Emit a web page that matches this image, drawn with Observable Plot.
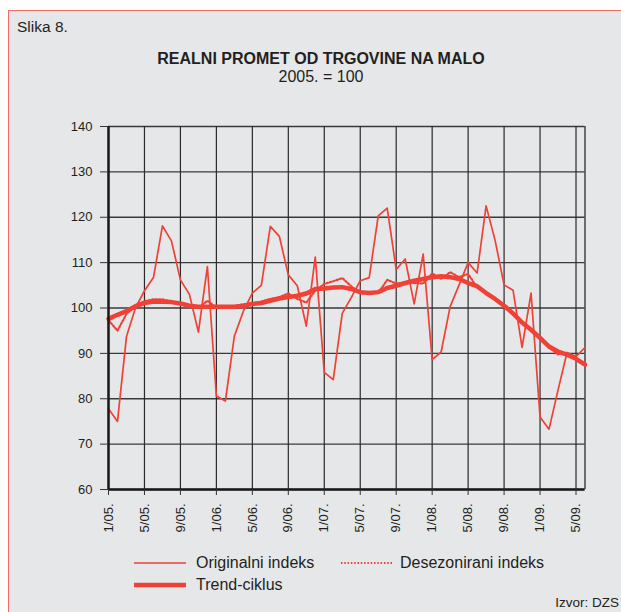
<!DOCTYPE html>
<html>
<head>
<meta charset="utf-8">
<script src="https://cdn.jsdelivr.net/npm/d3@7"></script>
<script src="https://cdn.jsdelivr.net/npm/@observablehq/plot@0.6"></script>
<style>
  body { margin: 0; background: #fff; }
  #fig { position: relative; width: 621px; height: 612px; overflow: hidden; background: #fff;
         font-family: "Liberation Sans", Arial, sans-serif; color: #231f20; }
  #panel { position: absolute; left: 8px; top: 10px; width: 660px; height: 660px;
           background: #e6e7e9; border-top: 1.5px solid #f26d6a; border-left: 1.5px solid #f26d6a; }
  .t { position: absolute; white-space: nowrap; line-height: 1; }
  #chart { position: absolute; left: 0; top: 0; }
</style>
</head>
<body>
<div id="fig">
  <div id="panel"></div>
  <div class="t" style="left:17px;top:19px;font-size:15.5px;">Slika 8.</div>
  <div class="t" style="left:0;width:642px;text-align:center;top:51px;font-size:16px;font-weight:bold;">REALNI PROMET OD TRGOVINE NA MALO</div>
  <div class="t" style="left:0;width:642px;text-align:center;top:69px;font-size:16px;">2005. = 100</div>
  <div id="chart"></div>
  <svg style="position:absolute;left:0;top:0;" width="621" height="612">
    <line x1="134" x2="186" y1="563" y2="563" stroke="#ef4136" stroke-width="1.6"/>
    <line x1="341" x2="392" y1="563" y2="563" stroke="#ef4136" stroke-width="2" stroke-dasharray="1.5,1.8"/>
    <line x1="134" x2="186" y1="585" y2="585" stroke="#ef4136" stroke-width="4.5"/>
  </svg>
  <div class="t" style="left:196px;top:555px;font-size:16px;">Originalni indeks</div>
  <div class="t" style="left:400px;top:555px;font-size:16px;">Desezonirani indeks</div>
  <div class="t" style="left:196px;top:577px;font-size:16px;">Trend-ciklus</div>
  <div class="t" style="right:2px;top:596px;font-size:13.5px;">Izvor: DZS</div>
</div>
<script>
// Months Jan 2005 .. Jun 2009 (index 0..53)
const monthLabels = [];
for (let y = 2005; y <= 2009; y++) {
  for (let m = 1; m <= 12; m++) {
    if (y === 2009 && m > 6) break;
    monthLabels.push(`${m}/${String(y % 100).padStart(2, "0")}.`);
  }
}
const xTickIndex = [0, 4, 8, 12, 16, 20, 24, 28, 32, 36, 40, 44, 48, 52];
const yTicks = [60, 70, 80, 90, 100, 110, 120, 130, 140];

const originalni = [
  77.8, 75.0, 93.7, 100.0, 103.8, 106.7, 118.1, 114.8, 106.2, 103.0, 94.7, 109.1,
  80.6, 79.5, 93.8, 99.3, 103.3, 105.0, 118.0, 115.8, 107.3, 104.9, 96.0, 111.2,
  85.8, 84.2, 98.8, 102.3, 106.0, 106.7, 120.3, 122.0, 108.5, 110.8, 100.9, 111.9,
  88.6, 90.3, 100.3, 105.1, 110.0, 107.7, 122.5, 114.9, 105.1, 103.9, 91.3, 103.3,
  76.0, 73.3, 81.9, 90.2, 89.3, 91.3
];
const desezonirani = [
  97.3, 95.0, 98.7, 100.6, 101.5, 101.9, 101.9, 101.4, 101.0, 100.7, 100.0, 101.6,
  100.1, 100.3, 100.4, 100.8, 101.0, 101.4, 102.0, 102.4, 103.2, 102.0, 101.2, 103.8,
  105.3, 105.9, 106.6, 104.8, 103.2, 103.2, 103.3, 106.2, 105.4, 105.7, 105.5, 105.4,
  107.6, 106.4, 107.9, 106.8, 107.5, 104.5, 103.4, 102.0, 100.4, 98.6, 96.6, 95.3,
  93.3, 91.3, 89.8, 90.0, 88.6, 87.8
];
const trendCiklus = [
  97.6, 98.5, 99.3, 100.4, 101.1, 101.4, 101.4, 101.3, 101.0, 100.5, 100.3, 100.3,
  100.3, 100.3, 100.3, 100.5, 100.9, 101.1, 101.6, 102.1, 102.4, 102.7, 103.2, 104.2,
  104.3, 104.5, 104.6, 104.2, 103.5, 103.3, 103.5, 104.4, 104.9, 105.5, 106.0, 106.4,
  106.8, 107.0, 106.8, 106.4, 105.5, 104.8, 103.3, 102.0, 100.5, 98.8, 96.8, 95.2,
  93.4, 91.5, 90.4, 89.7, 88.8, 87.5
];

const idx = d3.range(monthLabels.length);
const red = "#ef4136";

const chart = Plot.plot({
  width: 621,
  height: 560,
  marginLeft: 108,
  marginRight: 36.5,
  marginTop: 126,
  marginBottom: 71,
  style: { background: "transparent", fontFamily: "Liberation Sans, Arial, sans-serif", fontSize: "13px", color: "#231f20", overflow: "visible" },
  x: { type: "linear", domain: [0, monthLabels.length - 1] },
  y: { domain: [60, 140] },
  marks: [
    Plot.gridY(yTicks, { stroke: "#3a3a3a", strokeOpacity: 1, strokeWidth: 1.3 }),
    Plot.gridX(xTickIndex, { stroke: "#2a2a2a", strokeOpacity: 1, strokeWidth: 1.2 }),
    Plot.ruleX([monthLabels.length - 1], { stroke: "#2a2a2a", strokeWidth: 1.3 }),
    Plot.line(idx, { x: d => d, y: i => desezonirani[i], stroke: red, strokeWidth: 2.2, strokeDasharray: "1.5,2" }),
    Plot.line(idx, { x: d => d, y: i => originalni[i], stroke: red, strokeWidth: 1.7 }),
    Plot.line(idx, { x: d => d, y: i => trendCiklus[i], stroke: red, strokeWidth: 4.5 }),
    Plot.ruleX([0], { stroke: "#1a1a1a", strokeWidth: 2.5 }),
    Plot.ruleY([60], { stroke: "#1a1a1a", strokeWidth: 2.5 }),
    Plot.axisY(yTicks, { tickSize: 8, tickPadding: 8, stroke: "#333", fontSize: 13 }),
    Plot.axisX(xTickIndex, { tickSize: 6, tickPadding: 8, tickRotate: -90, stroke: "#333",
      tickFormat: i => monthLabels[i], fontSize: 13 })
  ]
});
document.getElementById("chart").appendChild(chart);
</script>
</body>
</html>
